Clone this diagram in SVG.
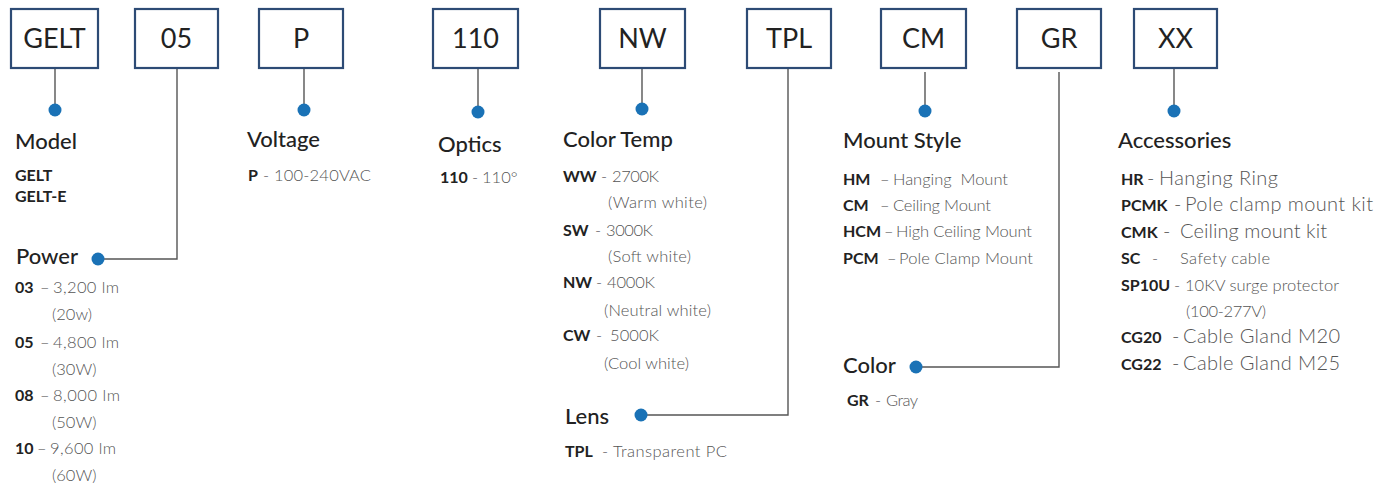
<svg xmlns="http://www.w3.org/2000/svg" width="1392" height="487" viewBox="0 0 1392 487">
<style>
text{font-family:Lato,"Open Sans","Liberation Sans",sans-serif}
.box{fill:#fff;stroke:#2d4b75;stroke-width:2.2}
.bt{font-size:27px;fill:#222;text-anchor:middle}
.ttl{font-size:22px;font-weight:500;fill:#222}
.code{font-size:16px;font-weight:700;fill:#222}
.desc{font-size:16.5px;font-weight:300;fill:#555}
.big{font-size:20px}
.dot{fill:#1a72b6}
.ln{stroke:#555;stroke-width:1.4;fill:none}
</style>
<rect width="1392" height="487" fill="#fff"/>
<g id="connectors">
<path class="ln" d="M55 69V104"/>
<path class="ln" d="M177 69V259H98"/>
<path class="ln" d="M304 69V104"/>
<path class="ln" d="M478 69V106"/>
<path class="ln" d="M642 69V103"/>
<path class="ln" d="M788 69V415H641"/>
<path class="ln" d="M925 72V105"/>
<path class="ln" d="M1059 72V367H916"/>
<path class="ln" d="M1174 69V105"/>
</g>
<g id="box-gelt"><rect class="box" x="11" y="9" width="87" height="59"/><text class="bt" x="54.5" y="48">GELT</text></g>
<g id="box-05"><rect class="box" x="135" y="9" width="83" height="59"/><text class="bt" x="176.5" y="48">05</text></g>
<g id="box-p"><rect class="box" x="259" y="9" width="84" height="59"/><text class="bt" x="301" y="48">P</text></g>
<g id="box-110"><rect class="box" x="433" y="9" width="85" height="59"/><text class="bt" x="475.5" y="48">110</text></g>
<g id="box-nw"><rect class="box" x="600" y="9" width="85" height="59"/><text class="bt" x="642.5" y="48">NW</text></g>
<g id="box-tpl"><rect class="box" x="747" y="9" width="84" height="59"/><text class="bt" x="789" y="48">TPL</text></g>
<g id="box-cm"><rect class="box" x="881" y="9" width="85" height="59"/><text class="bt" x="923.5" y="48">CM</text></g>
<g id="box-gr"><rect class="box" x="1017" y="9" width="84" height="59"/><text class="bt" x="1059" y="48">GR</text></g>
<g id="box-xx"><rect class="box" x="1134" y="9" width="83" height="59"/><text class="bt" x="1175.5" y="48">XX</text></g>

<g id="model">
<circle class="dot" cx="55" cy="110" r="6.5"/>
<text class="ttl" x="15" y="149">Model</text>
<text class="code" x="15" y="181">GELT</text>
<text class="code" x="15" y="202">GELT-E</text>
</g>
<g id="power">
<circle class="dot" cx="98" cy="259" r="6.5"/>
<text class="ttl" x="16" y="264">Power</text>
<text class="code" x="15" y="293">03</text><text class="desc" x="40" y="293">–</text><text class="desc" x="53" y="293" textLength="66">3,200 lm</text>
<text class="desc" x="52" y="320">(20w)</text>
<text class="code" x="15" y="348">05</text><text class="desc" x="40" y="348">–</text><text class="desc" x="53" y="348" textLength="66">4,800 lm</text>
<text class="desc" x="52" y="375">(30W)</text>
<text class="code" x="15" y="401">08</text><text class="desc" x="40" y="401">–</text><text class="desc" x="53" y="401" textLength="67">8,000 lm</text>
<text class="desc" x="52" y="428">(50W)</text>
<text class="code" x="15" y="454">10</text><text class="desc" x="37" y="454">–</text><text class="desc" x="50" y="454" textLength="66">9,600 lm</text>
<text class="desc" x="52" y="481">(60W)</text>
</g>
<g id="voltage">
<circle class="dot" cx="304" cy="110" r="6.5"/>
<text class="ttl" x="247" y="147">Voltage</text>
<text class="code" x="248" y="181">P</text><text class="desc" x="263" y="181">-</text><text class="desc" x="274" y="181" textLength="97">100-240VAC</text>
</g>
<g id="optics">
<circle class="dot" cx="478" cy="112" r="6.5"/>
<text class="ttl" x="438" y="152">Optics</text>
<text class="code" x="440" y="183">110</text><text class="desc" x="472" y="183">-</text><text class="desc" x="482" y="183">110°</text>
</g>
<g id="color-temp">
<circle class="dot" cx="642" cy="109" r="6.5"/>
<text class="ttl" x="563" y="147">Color Temp</text>
<text class="code" x="563" y="182">WW</text><text class="desc" x="601" y="182">-</text><text class="desc" x="612" y="182" textLength="47">2700K</text>
<text class="desc" x="608" y="208" textLength="99">(Warm white)</text>
<text class="code" x="563" y="236">SW</text><text class="desc" x="595" y="236">-</text><text class="desc" x="606" y="236" textLength="47">3000K</text>
<text class="desc" x="608" y="262" textLength="83">(Soft white)</text>
<text class="code" x="563" y="288">NW</text><text class="desc" x="596" y="288">-</text><text class="desc" x="607" y="288" textLength="48">4000K</text>
<text class="desc" x="604" y="316" textLength="107">(Neutral white)</text>
<text class="code" x="563" y="341">CW</text><text class="desc" x="596" y="341">-</text><text class="desc" x="610" y="341" textLength="49">5000K</text>
<text class="desc" x="604" y="369" textLength="85">(Cool white)</text>
</g>
<g id="lens">
<circle class="dot" cx="641" cy="415" r="6.5"/>
<text class="ttl" x="565" y="424">Lens</text>
<text class="code" x="565" y="457">TPL</text><text class="desc" x="602" y="457">-</text><text class="desc" x="613" y="457" textLength="114">Transparent PC</text>
</g>
<g id="mount-style">
<circle class="dot" cx="925" cy="111" r="6.5"/>
<text class="ttl" x="843" y="148">Mount Style</text>
<text class="code" x="843" y="185">HM</text><text class="desc" x="880" y="185">–</text><text class="desc" x="893" y="185" textLength="115" xml:space="preserve">Hanging  Mount</text>
<text class="code" x="843" y="211">CM</text><text class="desc" x="880" y="211">–</text><text class="desc" x="893" y="211" textLength="98">Ceiling Mount</text>
<text class="code" x="843" y="237">HCM</text><text class="desc" x="884" y="237">–</text><text class="desc" x="896" y="237" textLength="136">High Ceiling Mount</text>
<text class="code" x="843" y="264">PCM</text><text class="desc" x="887" y="264">–</text><text class="desc" x="899" y="264" textLength="134">Pole Clamp Mount</text>
</g>
<g id="color">
<circle class="dot" cx="916" cy="367" r="6.5"/>
<text class="ttl" x="843" y="373">Color</text>
<text class="code" x="847" y="406">GR</text><text class="desc" x="875" y="406">-</text><text class="desc" x="886" y="406" textLength="32">Gray</text>
</g>
<g id="accessories">
<circle class="dot" cx="1174" cy="111" r="6.5"/>
<text class="ttl" x="1118" y="148">Accessories</text>
<text class="code" x="1121" y="185">HR</text><text class="desc big" x="1147" y="185">-</text><text class="desc big" x="1159" y="185" textLength="119">Hanging Ring</text>
<text class="code" x="1121" y="211">PCMK</text><text class="desc big" x="1174" y="211">-</text><text class="desc big" x="1185" y="211" textLength="188">Pole clamp mount kit</text>
<text class="code" x="1121" y="238">CMK</text><text class="desc big" x="1163" y="238">-</text><text class="desc big" x="1180" y="238" textLength="147">Ceiling mount kit</text>
<text class="code" x="1121" y="264">SC</text><text class="desc" x="1152" y="264">-</text><text class="desc" x="1180" y="264" textLength="90">Safety cable</text>
<text class="code" x="1121" y="291">SP10U</text><text class="desc" x="1174" y="291">-</text><text class="desc" x="1185" y="291" textLength="154">10KV surge protector</text>
<text class="desc" x="1186" y="317" textLength="80">(100-277V)</text>
<text class="code" x="1121" y="343">CG20</text><text class="desc big" x="1172" y="343">-</text><text class="desc big" x="1183" y="343" textLength="157">Cable Gland M20</text>
<text class="code" x="1121" y="370">CG22</text><text class="desc big" x="1172" y="370">-</text><text class="desc big" x="1183" y="370" textLength="157">Cable Gland M25</text>
</g>
</svg>
